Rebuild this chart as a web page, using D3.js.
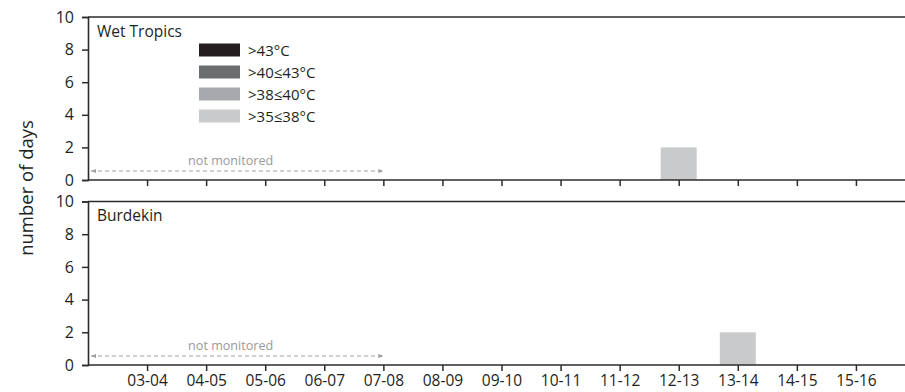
<!DOCTYPE html>
<html><head><meta charset="utf-8">
<script src="https://cdn.jsdelivr.net/npm/d3@7"></script>
<style>body{margin:0;background:#fff}svg{display:block}text{font-family:"Open Sans",sans-serif}</style>
</head><body><svg id="c" width="905" height="392"></svg>
<script>
const categories = ["03-04","04-05","05-06","06-07","07-08","08-09","09-10","10-11","11-12","12-13","13-14","14-15","15-16"];
const classes = [">43°C", ">40≤43°C", ">38≤40°C", ">35≤38°C"];
const classColors = ["#231f20", "#6d6e70", "#a7a9ac", "#c9cacc"];
const yTicks = [0, 2, 4, 6, 8, 10];
// days per class per season
const wetTropics43 = [0,0,0,0,0,0,0,0,0,0,0,0,0];
const wetTropics40 = [0,0,0,0,0,0,0,0,0,0,0,0,0];
const wetTropics38 = [0,0,0,0,0,0,0,0,0,0,0,0,0];
const wetTropics35 = [0,0,0,0,0,0,0,0,0,2,0,0,0];
const burdekin43 = [0,0,0,0,0,0,0,0,0,0,0,0,0];
const burdekin40 = [0,0,0,0,0,0,0,0,0,0,0,0,0];
const burdekin38 = [0,0,0,0,0,0,0,0,0,0,0,0,0];
const burdekin35 = [0,0,0,0,0,0,0,0,0,0,2,0,0];
const notMonitoredEnd = "07-08";

const panels = [
  {name: "Wet Tropics", series: [wetTropics43, wetTropics40, wetTropics38, wetTropics35], top: 17, bottom: 180, legend: true, labels: false},
  {name: "Burdekin", series: [burdekin43, burdekin40, burdekin38, burdekin35], top: 201.5, bottom: 365, legend: false, labels: true}
];

const svg = d3.select("#c");
const axisColor = "#2b2b2b";
const x0 = 88;
const x = d3.scalePoint().domain(categories).range([x0, 915]).padding(1);
const barW = 36;

svg.append("defs").html(`
<marker id="arrL" viewBox="0 0 6 6" refX="0" refY="3" markerWidth="5" markerHeight="5" orient="auto"><path d="M6,0.5 L0,3 L6,5.5 Z" fill="#a0a0a0"/></marker>
<marker id="arrR" viewBox="0 0 6 6" refX="6" refY="3" markerWidth="5" markerHeight="5" orient="auto"><path d="M0,0.5 L6,3 L0,5.5 Z" fill="#a0a0a0"/></marker>`);

panels.forEach(p => {
  const y = d3.scaleLinear().domain([0, 10]).range([p.bottom, p.top]);
  const g = svg.append("g");

  const data = categories.map((c, i) => {
    const o = {cat: c};
    classes.forEach((k, j) => o[k] = p.series[j][i]);
    return o;
  });
  const stackOrder = classes.slice().reverse();
  const stacked = d3.stack().keys(stackOrder)(data);
  stacked.forEach(s => {
    const col = classColors[classes.indexOf(s.key)];
    g.selectAll(null).data(s.filter(d => d[1] > d[0])).join("rect")
      .attr("x", d => x(d.data.cat) - barW / 2)
      .attr("width", barW)
      .attr("y", d => y(d[1]))
      .attr("height", d => y(d[0]) - y(d[1]))
      .attr("fill", col);
  });

  g.append("line").attr("x1", x0).attr("x2", 905).attr("y1", y(10)).attr("y2", y(10))
    .attr("stroke", axisColor).attr("stroke-width", 1.6);

  const ya = g.append("g").attr("transform", `translate(${x0},0)`)
    .call(d3.axisLeft(y).tickValues(yTicks).tickSize(6).tickPadding(8));
  ya.select(".domain").attr("stroke", axisColor).attr("stroke-width", 1.6);
  ya.selectAll(".tick line").attr("stroke", axisColor).attr("stroke-width", 1.5);
  ya.selectAll("text").attr("font-size", 16).attr("fill", "#231f20").attr("font-family", "Open Sans, sans-serif");

  const xa = g.append("g").attr("transform", `translate(0,${p.bottom})`)
    .call(d3.axisBottom(x).tickSize(6).tickPadding(4).tickFormat(p.labels ? (d => d) : () => ""));
  xa.select(".domain").remove();
  xa.append("line").attr("x1", x0).attr("x2", 905).attr("stroke", axisColor).attr("stroke-width", 1.6);
  xa.selectAll(".tick line").attr("stroke", axisColor).attr("stroke-width", 1.5);
  xa.selectAll("text").attr("font-size", 15.5).attr("fill", "#231f20").attr("font-family", "Open Sans, sans-serif");

  g.append("text").attr("x", 97).attr("y", p.top + 19.5).attr("font-size", 15.5).attr("fill", "#231f20").text(p.name);

  const ny = y(0.55);
  g.append("line").attr("x1", x0 + 3).attr("x2", x(notMonitoredEnd)).attr("y1", ny).attr("y2", ny)
    .attr("stroke", "#a0a0a0").attr("stroke-width", 1).attr("stroke-dasharray", "4,3")
    .attr("marker-start", "url(#arrL)").attr("marker-end", "url(#arrR)");
  g.append("text").attr("x", (x0 + x(notMonitoredEnd)) / 2 - 5).attr("y", ny - 6)
    .attr("text-anchor", "middle").attr("font-size", 12.6).attr("fill", "#999").text("not monitored");

  if (p.legend) {
    const lg = g.append("g");
    classes.forEach((k, i) => {
      const cy = 50 + i * 22;
      lg.append("rect").attr("x", 199).attr("y", cy - 6.5).attr("width", 41).attr("height", 13).attr("fill", classColors[i]);
      lg.append("text").attr("x", 248).attr("y", cy + 6).attr("font-size", 15).attr("fill", "#231f20").text(k);
    });
  }
});

svg.append("text").attr("transform", "translate(33,188) rotate(-90)").attr("text-anchor", "middle")
  .attr("font-size", 18.5).attr("fill", "#231f20").text("number of days");
</script></body></html>
